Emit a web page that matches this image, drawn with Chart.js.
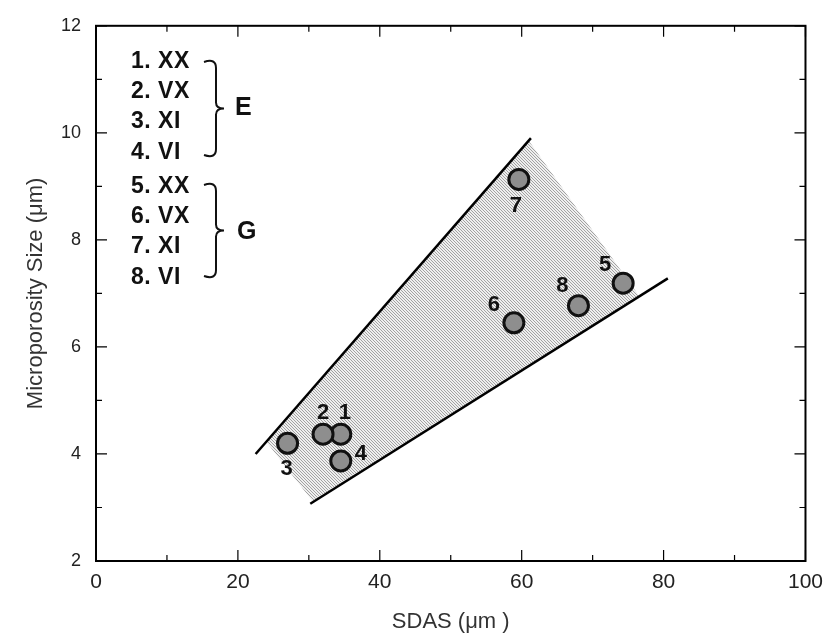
<!DOCTYPE html>
<html>
<head>
<meta charset="utf-8">
<script src="https://cdn.jsdelivr.net/npm/chart.js@4"></script>
<style>
  body { margin: 0; background: #fff; }
  canvas { display: block; }
</style>
</head>
<body>
<canvas id="chart" width="832" height="643"></canvas>
<script>
// measured points (SDAS, microporosity size), numbered 1..8
const pointIds = ['1', '2', '3', '4', '5', '6', '7', '8'];
const sdas = [34.5, 32.0, 27.0, 34.5, 74.3, 58.9, 59.6, 68.0];
const poreSize = [4.37, 4.37, 4.20, 3.87, 7.19, 6.45, 9.13, 6.77];

// bounding lines of the band
const upperX = [22.5, 61.3];
const upperY = [4.0, 9.9];
const lowerX = [30.2, 80.6];
const lowerY = [3.07, 7.28];

// shaded band corners
const shadeX = [24.0, 61.0, 76.5, 30.5];
const shadeY = [4.23, 9.85, 6.96, 3.12];

// legend text
const legendRows = ['1. XX', '2. VX', '3. XI', '4. VI', '5. XX', '6. VX', '7. XI', '8. VI'];
const groupNames = ['E', 'G'];

// where each number label sits relative to its dot (px)
const labelOffsets = [[4, -21], [0, -21], [-1, 26], [20, -7], [-18, -18], [-20, -18], [-3, 27], [-16, -20]];

function makePattern() {
  const c = document.createElement('canvas');
  c.width = 3; c.height = 3;
  const g = c.getContext('2d');
  g.fillStyle = '#efefef';
  g.fillRect(0, 0, 3, 3);
  g.fillStyle = '#a2a2a2';
  for (let i = 0; i < 3; i++) g.fillRect(i, i, 1, 1);
  return g.createPattern(c, 'repeat');
}

function brace(ctx, x0, x1, tip, top, bottom) {
  const mid = (top + bottom) / 2;
  ctx.beginPath();
  ctx.moveTo(x0, top + 2);
  ctx.quadraticCurveTo(x1, top - 2, x1, top + 8);
  ctx.lineTo(x1, mid - 6);
  ctx.quadraticCurveTo(x1, mid, tip, mid);
  ctx.quadraticCurveTo(x1, mid, x1, mid + 6);
  ctx.lineTo(x1, bottom - 8);
  ctx.quadraticCurveTo(x1, bottom + 2, x0, bottom - 2);
  ctx.stroke();
}

const decor = {
  id: 'decor',
  beforeDatasetsDraw(chart) {
    const {ctx, scales: {x, y}} = chart;
    ctx.save();
    ctx.beginPath();
    shadeX.forEach((v, i) => {
      const px = x.getPixelForValue(v), py = y.getPixelForValue(shadeY[i]);
      if (i === 0) ctx.moveTo(px, py); else ctx.lineTo(px, py);
    });
    ctx.closePath();
    ctx.fillStyle = makePattern();
    ctx.fill();
    ctx.restore();
  },
  afterDraw(chart) {
    const {ctx, chartArea: a, scales: {x, y}} = chart;
    ctx.save();
    // frame
    ctx.strokeStyle = '#000';
    ctx.lineWidth = 2;
    ctx.strokeRect(a.left, a.top, a.right - a.left, a.bottom - a.top);
    // inward ticks on all sides
    ctx.lineWidth = 1.2;
    ctx.beginPath();
    for (let v = x.min; v <= x.max + 0.01; v += 10) {
      const px = x.getPixelForValue(v);
      const len = v % 20 === 0 ? 11 : 6;
      ctx.moveTo(px, a.bottom); ctx.lineTo(px, a.bottom - len);
      ctx.moveTo(px, a.top); ctx.lineTo(px, a.top + len);
    }
    for (let v = y.min; v <= y.max + 0.01; v += 1) {
      const py = y.getPixelForValue(v);
      const len = v % 2 === 0 ? 11 : 6;
      ctx.moveTo(a.left, py); ctx.lineTo(a.left + len, py);
      ctx.moveTo(a.right, py); ctx.lineTo(a.right - len, py);
    }
    ctx.stroke();

    // point numbers
    ctx.fillStyle = '#111';
    ctx.font = 'bold 22px "Liberation Sans", Arial, sans-serif';
    ctx.textAlign = 'center';
    ctx.textBaseline = 'middle';
    pointIds.forEach((id, i) => {
      const px = x.getPixelForValue(sdas[i]), py = y.getPixelForValue(poreSize[i]);
      ctx.fillText(id, px + labelOffsets[i][0], py + labelOffsets[i][1]);
    });

    // legend
    ctx.textAlign = 'left';
    ctx.font = 'bold 23px "Liberation Sans", Arial, sans-serif';
    ctx.letterSpacing = '0.5px';
    const rowY = [62, 92, 122, 153, 187, 217, 247, 278];
    legendRows.forEach((t, i) => ctx.fillText(t, a.left + 35, rowY[i]));
    ctx.letterSpacing = '0px';
    ctx.lineWidth = 2;
    ctx.strokeStyle = '#111';
    brace(ctx, a.left + 108, a.left + 120, a.left + 128, 60, 157);
    brace(ctx, a.left + 108, a.left + 120, a.left + 128, 183, 278);
    ctx.font = 'bold 25px "Liberation Sans", Arial, sans-serif';
    ctx.fillText(groupNames[0], a.left + 139, 108);
    ctx.fillText(groupNames[1], a.left + 141, 232);
    ctx.restore();
  }
};

new Chart(document.getElementById('chart'), {
  type: 'scatter',
  data: {
    datasets: [
      {
        data: upperX.map((v, i) => ({x: v, y: upperY[i]})),
        showLine: true, borderColor: '#000', borderWidth: 2.5, pointRadius: 0
      },
      {
        data: lowerX.map((v, i) => ({x: v, y: lowerY[i]})),
        showLine: true, borderColor: '#000', borderWidth: 2.5, pointRadius: 0
      },
      {
        data: sdas.map((v, i) => ({x: v, y: poreSize[i]})),
        pointRadius: 10,
        backgroundColor: '#8e8e8e',
        borderColor: '#111',
        borderWidth: 3
      }
    ]
  },
  options: {
    responsive: false,
    animation: false,
    layout: { padding: { top: 20, right: 20, left: 0, bottom: 0 } },
    plugins: { legend: { display: false }, tooltip: { enabled: false } },
    scales: {
      x: {
        type: 'linear', min: 0, max: 100,
        grid: { display: false, drawTicks: false },
        border: { display: false },
        ticks: { stepSize: 20, padding: 9, color: '#222',
          font: { family: '"Liberation Sans Narrow", "Liberation Sans", Arial', size: 21 } },
        title: { display: true, text: 'SDAS (\u03bcm )', color: '#333',
          font: { family: '"Liberation Sans", Arial', size: 22 }, padding: { top: 0, bottom: 8 } },
        afterFit(s) { s.height = 82; }
      },
      y: {
        type: 'linear', min: 2, max: 12,
        grid: { display: false, drawTicks: false },
        border: { display: false },
        ticks: { stepSize: 2, padding: 15, color: '#222',
          font: { family: '"Liberation Sans", Arial', size: 18 } },
        title: { display: true, text: 'Microporosity Size (\u03bcm)', color: '#333',
          font: { family: '"Liberation Sans", Arial', size: 22 }, padding: { top: 23, bottom: 0 } },
        afterFit(s) { s.width = 96; }
      }
    }
  },
  plugins: [decor]
});
</script>
</body>
</html>
